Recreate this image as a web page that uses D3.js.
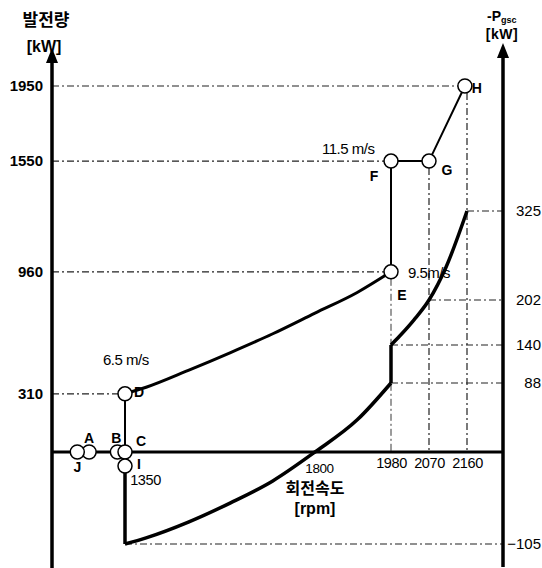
<!DOCTYPE html>
<html>
<head>
<meta charset="utf-8">
<script src="https://cdn.jsdelivr.net/npm/d3@7"></script>
<style>
  html, body { margin: 0; padding: 0; background: #fff; }
  svg { display: block; }
  text { font-family: "Liberation Sans", Arial, sans-serif; fill: #000; }
  .ko { font-family: "Noto Sans CJK KR", sans-serif; }
</style>
</head>
<body>
<svg id="chart" width="542" height="568"></svg>
<script>
// ---------------- data ----------------
const rpmTicks = [1350, 1800, 1980, 2070, 2160];
const kwTicks = [310, 960, 1550, 1950];
const pgscTicks = [325, 202, 140, 88, -105];

// generator power curve D -> E (rpm, kW)
const powerRpm = [1350, 1400, 1500, 1600, 1700, 1800, 1900, 1980];
const powerKw  = [310, 345, 435, 530, 630, 740, 850, 960];

// -Pgsc curve (rpm, kW on right axis) : low segment and high segment
const gscLowRpm  = [1350, 1400, 1500, 1600, 1700, 1800, 1900, 1980];
const gscLowKw   = [-105, -98, -80, -58, -33, 0, 41, 88];
const gscHighRpm = [1980, 2000, 2035, 2070, 2110, 2160];
const gscHighKw  = [140, 152, 175, 202, 247, 325];

// operating points
const pointNames = ["A", "J", "B", "C", "I", "D", "E", "F", "G", "H"];
const pointRpm   = [1265, 1237, 1332, 1350, 1350, 1350, 1980, 1980, 2070, 2155];
const pointKw    = [0, 0, 0, 0, -75, 310, 960, 1550, 1550, 1950];

// wind speed labels
const windLabels = ["6.5 m/s", "9.5m/s", "11.5 m/s"];
const windRpm    = [1350, 1980, 1980];
const windKw     = [310, 960, 1550];

// ---------------- scales ----------------
const svg = d3.select("#chart");
const xAxisPos = 52, rAxisPos = 503;
const x = d3.scaleLinear().domain([1350, 2160]).range([125, 467]);
const yL = d3.scaleLinear().domain([0, 1950]).range([452, 86]);
const yR = d3.scaleLinear().domain([-105, 0, 88, 140, 202, 325]).range([544, 452, 383, 345, 300, 211]);
const y0 = yL(0);

const dash = "7,3,2,3";
const gGuide = svg.append("g").attr("stroke", "#222").attr("stroke-width", 1.2)
  .attr("stroke-dasharray", dash).attr("fill", "none");

const pt = i => [x(pointRpm[i]), yL(pointKw[i])];
const idx = n => pointNames.indexOf(n);

// horizontal guides from left axis to points D, E, F, H
["D", "E", "F", "H"].forEach(n => {
  const [px, py] = pt(idx(n));
  gGuide.append("line").attr("x1", xAxisPos).attr("x2", px - 7).attr("y1", py).attr("y2", py);
});
// vertical guides down to axis
[["E", 1980], ["G", 2070], ["H", 2160]].forEach(([n, r]) => {
  const py = yL(pointKw[idx(n)]);
  gGuide.append("line").attr("x1", x(r)).attr("x2", x(r)).attr("y1", py + 7).attr("y2", y0)
    .attr("stroke-width", n === "E" ? 0.9 : 1.2);
});
// right-axis guides
const rightGuideStart = { 325: 2160, 202: 2070, 140: 1980, 88: 1980, "-105": 1350 };
pgscTicks.forEach(v => {
  gGuide.append("line").attr("x1", x(rightGuideStart[v])).attr("x2", rAxisPos)
    .attr("y1", yR(v)).attr("y2", yR(v));
});

// ---------------- axes ----------------
const axes = svg.append("g").attr("stroke", "#000").attr("fill", "none");
axes.append("line").attr("x1", xAxisPos).attr("x2", xAxisPos).attr("y1", 568).attr("y2", 58).attr("stroke-width", 3.5);
axes.append("line").attr("x1", rAxisPos).attr("x2", rAxisPos).attr("y1", 567).attr("y2", 54).attr("stroke-width", 3.5);
axes.append("line").attr("x1", xAxisPos).attr("x2", rAxisPos).attr("y1", y0).attr("y2", y0).attr("stroke-width", 3);
svg.append("path").attr("d", `M${xAxisPos},48 L${xAxisPos - 6},63 L${xAxisPos + 6},63 Z`).attr("fill", "#000");
svg.append("path").attr("d", `M${rAxisPos},43 L${rAxisPos - 6},58 L${rAxisPos + 6},58 Z`).attr("fill", "#000");

// left tick labels
const gl = svg.append("g").attr("transform", `translate(${xAxisPos},0)`)
  .call(d3.axisLeft(yL).tickValues(kwTicks).tickSize(0).tickPadding(9).tickFormat(d3.format("d")));
gl.select(".domain").remove();
gl.selectAll("text").attr("font-size", 15).attr("font-weight", "bold").attr("font-family", "Liberation Sans, Arial, sans-serif").attr("fill", "#000");

// right tick labels
const gr = svg.append("g").attr("transform", `translate(${rAxisPos},0)`)
  .call(d3.axisRight(yR).tickValues(pgscTicks).tickSize(0).tickFormat(d3.format("d")));
gr.select(".domain").remove();
gr.selectAll("text").attr("font-size", 15).attr("font-family", "Liberation Sans, Arial, sans-serif")
  .attr("fill", "#000").attr("text-anchor", "end").attr("x", 38);

// bottom tick labels (dx, top offset below axis)
const xOff = { 1350: [20, 23], 1800: [4, 11], 1980: [0, 6], 2070: [0, 6], 2160: [0, 6] };
const gb = svg.append("g").attr("transform", `translate(0,${y0})`)
  .call(d3.axisBottom(x).tickValues(rpmTicks).tickSize(0).tickFormat(d3.format("d")));
gb.select(".domain").remove();
gb.selectAll("text").attr("font-size", d => d === 1800 ? 13.5 : 14.5)
  .attr("font-family", "Liberation Sans, Arial, sans-serif")
  .attr("fill", "#000")
  .attr("dx", d => xOff[d][0]).attr("y", d => xOff[d][1]).attr("dy", "0.71em")
  .attr("letter-spacing", -0.4);

// ---------------- curves ----------------
const lineL = d3.line().x(d => x(d[0])).y(d => yL(d[1])).curve(d3.curveMonotoneX);
const lineR = d3.line().x(d => x(d[0])).y(d => yR(d[1])).curve(d3.curveMonotoneX);

svg.append("path").datum(powerRpm.map((r, i) => [r, powerKw[i]]))
  .attr("d", lineL).attr("fill", "none").attr("stroke", "#000").attr("stroke-width", 3);
svg.append("path").datum(gscLowRpm.map((r, i) => [r, gscLowKw[i]]))
  .attr("d", lineR).attr("fill", "none").attr("stroke", "#000").attr("stroke-width", 3.5);
svg.append("path").datum(gscHighRpm.map((r, i) => [r, gscHighKw[i]]))
  .attr("d", lineR).attr("fill", "none").attr("stroke", "#000").attr("stroke-width", 3.5);
// vertical jump at 1980
svg.append("line").attr("x1", x(1980)).attr("x2", x(1980))
  .attr("y1", yR(gscLowKw[gscLowKw.length - 1])).attr("y2", yR(gscHighKw[0]))
  .attr("stroke", "#000").attr("stroke-width", 3.5);
// vertical at 1350 : D -> C (thin), C -> -105 (thick)
svg.append("line").attr("x1", x(1350)).attr("x2", x(1350)).attr("y1", yL(310)).attr("y2", y0)
  .attr("stroke", "#000").attr("stroke-width", 2);
svg.append("line").attr("x1", x(1350)).attr("x2", x(1350)).attr("y1", y0).attr("y2", yR(-105))
  .attr("stroke", "#000").attr("stroke-width", 3.5);
// E - F - G - H path
const efgh = ["E", "F", "G", "H"].map(n => [pointRpm[idx(n)], pointKw[idx(n)]]);
svg.append("path").datum(efgh).attr("d", d3.line().x(d => x(d[0])).y(d => yL(d[1])))
  .attr("fill", "none").attr("stroke", "#000").attr("stroke-width", 2);

// ---------------- points ----------------
const drawOrder = ["A", "J", "B", "C", "I", "D", "E", "F", "G", "H"];
drawOrder.forEach(n => {
  const [px, py] = pt(idx(n));
  svg.append("circle").attr("cx", px).attr("cy", py).attr("r", 7)
    .attr("fill", "#fff").attr("stroke", "#000").attr("stroke-width", 1.5);
});

// point labels (offsets from the point)
const labOff = {
  A: [0, -9], J: [0, 20], B: [-1, -9], C: [16, -6], I: [14, 3],
  D: [14, 3], E: [11, 28], F: [-17, 20], G: [18, 14], H: [12, 7]
};
pointNames.forEach((n, i) => {
  const [px, py] = pt(i);
  svg.append("text").attr("x", px + labOff[n][0]).attr("y", py + labOff[n][1])
    .attr("text-anchor", "middle").attr("font-size", 14).attr("font-weight", "bold").text(n);
});

// wind labels
const windOff = [[-22, -29], [17, 6], [-69, -7]];
windLabels.forEach((t, i) => {
  svg.append("text").attr("x", x(windRpm[i]) + windOff[i][0]).attr("y", yL(windKw[i]) + windOff[i][1])
    .attr("font-size", 15).attr("letter-spacing", -0.5).text(t);
});

// ---------------- titles ----------------
svg.append("text").attr("class", "ko").attr("x", 46).attr("y", 26).attr("text-anchor", "middle")
  .attr("font-size", 17).attr("font-weight", "bold").text("발전량");
svg.append("text").attr("x", 44).attr("y", 52).attr("text-anchor", "middle")
  .attr("font-size", 16).attr("font-weight", "bold").text("[kW]");

const rt = svg.append("text").attr("x", 487).attr("y", 21).attr("font-size", 14).attr("font-weight", "bold");
rt.append("tspan").text("-P");
rt.append("tspan").attr("font-size", 9).attr("dy", 2).text("gsc");
svg.append("text").attr("x", 502).attr("y", 39).attr("text-anchor", "middle")
  .attr("font-size", 14).attr("font-weight", "bold").attr("letter-spacing", 0.5).text("[kW]");

svg.append("text").attr("class", "ko").attr("x", 315).attr("y", 494).attr("text-anchor", "middle")
  .attr("font-size", 16).attr("font-weight", "bold").text("회전속도");
svg.append("text").attr("x", 315).attr("y", 514).attr("text-anchor", "middle")
  .attr("font-size", 16).attr("font-weight", "bold").text("[rpm]");
</script>
</body>
</html>
